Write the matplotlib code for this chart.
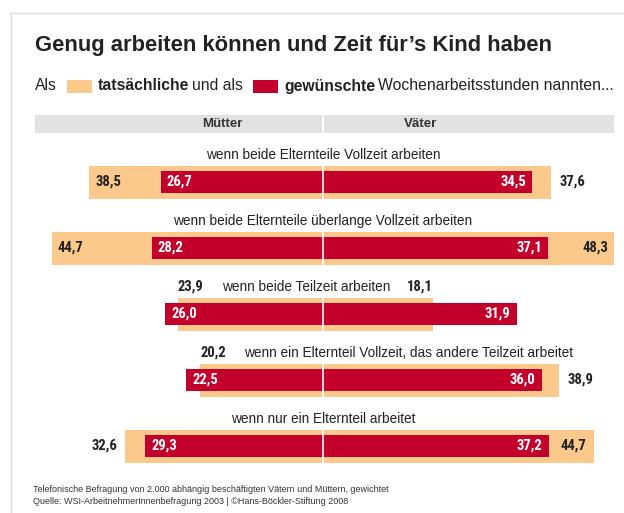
import matplotlib
matplotlib.use("Agg")
import matplotlib.pyplot as plt
from matplotlib import font_manager as fm
from matplotlib.patches import Rectangle
from matplotlib.lines import Line2D

# ---------------- data ----------------
categories = [
    "wenn beide Elternteile Vollzeit arbeiten",
    "wenn beide Elternteile überlange Vollzeit arbeiten",
    "wenn beide Teilzeit arbeiten",
    "wenn ein Elternteil Vollzeit, das andere Teilzeit arbeitet",
    "wenn nur ein Elternteil arbeitet",
]
mothers_actual = [38.5, 44.7, 23.9, 20.2, 32.6]
mothers_desired = [26.7, 28.2, 26.0, 22.5, 29.3]
fathers_actual = [37.6, 48.3, 18.1, 38.9, 44.7]
fathers_desired = [34.5, 37.1, 31.9, 36.0, 37.2]
group_labels = ["Mütter", "Väter"]
title = "Genug arbeiten können und Zeit für’s Kind haben"
legend_parts = ["Als", "tatsächliche", "und als", "gewünschte", "Wochenarbeitsstunden nannten..."]
footer = [
    "Telefonische Befragung von 2.000 abhängig beschäftigten Vätern und Müttern, gewichtet",
    "Quelle: WSI-ArbeitnehmerInnenbefragung 2003 | ©Hans-Böckler-Stiftung 2008",
]

# ---------------- style ----------------
ORANGE = "#FCC98D"
RED = "#C2002B"
BAND = "#E2E2E2"
DARK = "#222222"
names = {f.name for f in fm.fontManager.ttflist}


def pick(*cands):
    for cnd in cands:
        if cnd in names:
            return cnd
    return "DejaVu Sans"


BASE = pick("Liberation Sans", "Arimo")
COND = pick("Roboto Condensed", "Archivo Narrow", "PT Sans Narrow", "Liberation Sans Narrow", BASE)
plt.rcParams["font.family"] = [BASE, "DejaVu Sans"]
FAM = [BASE, "DejaVu Sans"]
NFAM = [COND, "DejaVu Sans"]

W, H = 624, 513
fig = plt.figure(figsize=(W / 100, H / 100), dpi=100)
fig.patch.set_facecolor("white")


def fx(px):
    return px / W


def fy(py):
    return 1 - py / H


# frame lines
fig.add_artist(Line2D([fx(10), 1], [fy(13), fy(13)], transform=fig.transFigure, color="#dcdcdc", lw=1))
fig.add_artist(Line2D([fx(11), fx(11)], [fy(13), 0], transform=fig.transFigure, color="#dcdcdc", lw=1))

# title
fig.text(fx(35), fy(46), title, fontsize=15.8, fontweight="bold", color=DARK, va="center", ha="left",
         family=FAM)

# legend line
renderer = fig.canvas.get_renderer()
ly = fy(86)
x = fx(35)


def put(s, weight="normal"):
    global x
    t = fig.text(x, ly, s, fontsize=11.3, fontweight=weight, color=DARK, va="center", ha="left",
                 family=FAM)
    bb = t.get_window_extent(renderer)
    x += bb.width / W


def box(color):
    global x
    x += fx(10)
    fig.add_artist(Rectangle((x, fy(93)), fx(25), 13 / H, transform=fig.transFigure,
                             facecolor=color, edgecolor="none"))
    x += fx(25) + fx(6)


put(legend_parts[0])
box(ORANGE)
put(legend_parts[1], "bold")
x += fx(3)
put(legend_parts[2])
box(RED)
put(legend_parts[3], "bold")
x += fx(3)
put(legend_parts[4])

# ---------------- main axes ----------------
ax_l, ax_r, ax_t, ax_b = 35, 614, 110, 470
ax = fig.add_axes([fx(ax_l), fy(ax_b), (ax_r - ax_l) / W, (ax_b - ax_t) / H])
center_px, scale = 323, 6.07
xmin = -(center_px - ax_l) / scale
xmax = (ax_r - center_px) / scale
row_px = 66
c = (182 - ax_t) / row_px
ax.set_xlim(xmin, xmax)
ax.set_ylim((ax_b - ax_t) / row_px - c, -c)
ax.axis("off")

# header band
band_y = (124 - ax_t) / row_px - c
ax.barh([band_y], [xmax - xmin], left=xmin, height=18 / row_px, color=BAND, zorder=1)
ax.plot([0, 0], [band_y - 9 / row_px, band_y + 9 / row_px], color="white", lw=1.3, zorder=2)
ax.text(-16.6, band_y, group_labels[0], ha="center", va="center", fontsize=9.5, fontweight="bold",
        color="#333333", family=FAM)
ax.text(16.0, band_y, group_labels[1], ha="center", va="center", fontsize=9.5, fontweight="bold",
        color="#333333", family=FAM)

rows = list(range(len(categories)))
oh, rh = 33 / row_px, 22 / row_px
ax.barh(rows, [-v for v in mothers_actual], height=oh, color=ORANGE, zorder=2)
ax.barh(rows, fathers_actual, height=oh, color=ORANGE, zorder=2)
ax.barh(rows, [-v for v in mothers_desired], height=rh, color=RED, zorder=3)
ax.barh(rows, fathers_desired, height=rh, color=RED, zorder=3)
for i in rows:
    ax.plot([0, 0], [i - oh / 2, i + oh / 2], color="white", lw=1.2, zorder=4)


def fmt(v):
    return f"{v:.1f}".replace(".", ",")


PX = 0.72  # points per pixel
vfs = 10.5
cfs = 9.8
lab_dy = -27 / row_px


def val(s, xy, dx, ha, color=DARK):
    ax.annotate(s, xy, xytext=(dx * PX, 0), textcoords="offset points", ha=ha, va="center",
                color=color, fontsize=vfs, fontweight="bold", family=NFAM, zorder=5,
                annotation_clip=False)


for i in rows:
    ma, md, fa, fd = mothers_actual[i], mothers_desired[i], fathers_actual[i], fathers_desired[i]
    # desired (white, inside red)
    val(fmt(md), (-md, i), 6, "left", "white")
    val(fmt(fd), (fd, i), -6, "right", "white")
    # actual mothers
    if ma < md:
        val(fmt(ma), (-ma, i + lab_dy), 0, "left")
        ax.annotate(categories[i], (-ma, i + lab_dy), xytext=(44 * PX, 0), textcoords="offset points",
                    ha="left", va="center", color=DARK, fontsize=cfs, family=FAM)
    else:
        ax.text(0, i + lab_dy, categories[i], ha="center", va="center", color=DARK, fontsize=cfs,
                family=FAM)
        if ma - md > 5:
            val(fmt(ma), (-ma, i), 6, "left")
        else:
            val(fmt(ma), (-ma, i), -8, "right")
    # actual fathers
    if fa < fd:
        val(fmt(fa), (fa, i + lab_dy), 0, "right")
    elif fa - fd > 5:
        val(fmt(fa), (fa, i), -8, "right")
    else:
        val(fmt(fa), (fa, i), 8, "left")

# footer
fig.text(fx(33), fy(489), footer[0], fontsize=6.45, color="#333333", va="center", ha="left", family=FAM)
fig.text(fx(33), fy(501), footer[1], fontsize=6.45, color="#333333", va="center", ha="left", family=FAM)

fig.savefig("out.png", dpi=100, facecolor="white")
